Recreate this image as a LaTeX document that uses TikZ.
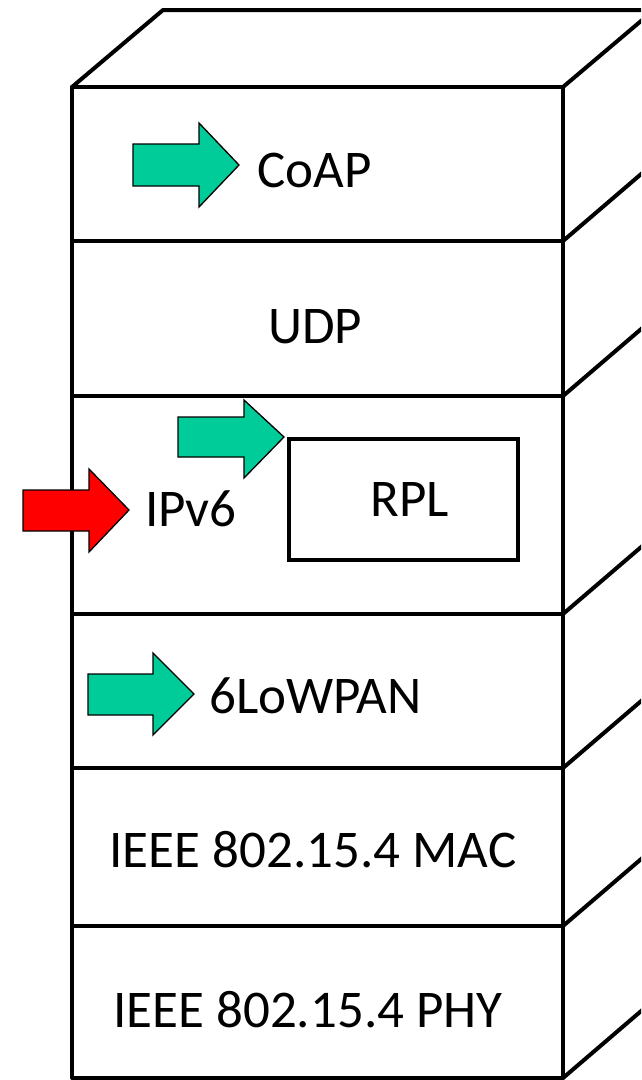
\documentclass[tikz,border=0pt]{standalone}
\usepackage{fontspec}
\setmainfont{Carlito}
\begin{document}
\begin{tikzpicture}[x=1pt,y=-1pt,
  edge/.style={line width=4pt,line join=round,line cap=round},
  lbl/.style={inner sep=0pt,font=\fontsize{53}{60}\selectfont},
  garrow/.style={fill=arrowgreen,draw=black,line width=1.3pt},
  rarrow/.style={fill=red,draw=black,line width=1.3pt}]
\definecolor{arrowgreen}{RGB}{0,204,153}
\useasboundingbox (0,0) rectangle (641,1080);
\clip (0,0) rectangle (641,1080);
% top face
\draw[edge] (72,87) -- (163,10) -- (660,10);
\draw[edge] (563,87) -- (654,10);
% front face
\draw[edge] (72,87) rectangle (563,1078);
\foreach \yy in {241,396,614,768,926}{
  \draw[edge] (72,\yy) -- (563,\yy);
}
% side diagonals
\foreach \yy in {241,396,614,768,926,1078}{
  \draw[edge] (563,\yy) -- ++(91,-78);
}
% RPL box
\draw[line width=4pt] (289,439) rectangle (518,560);
% arrows
\draw[garrow] (133,144) -- (199,144) -- (199,123) -- (239,165) -- (199,207) -- (199,186) -- (133,186) -- cycle;
\draw[garrow] (178,417) -- (244,417) -- (244,400) -- (284,437) -- (244,478) -- (244,457) -- (178,457) -- cycle;
\draw[rarrow] (23,490) -- (89,490) -- (89,469) -- (129,510) -- (89,552) -- (89,531) -- (23,531) -- cycle;
\draw[garrow] (88,674) -- (153,674) -- (153,653) -- (194,694) -- (153,735) -- (153,715) -- (88,715) -- cycle;
% labels
\node[lbl,anchor=base west] (coap) at (257,187) {CoAP};
\node[lbl,anchor=base] (udp) at (315,343) {UDP};
\node[lbl,anchor=base west] (ipv6) at (145,526) {IPv6};
\node[lbl,anchor=base] (rpl) at (410,516) {RPL};
\node[lbl,anchor=base west] (lowpan) at (209,713) {6LoWPAN};
\node[lbl,anchor=base] (mac) at (313,867) {IEEE 802.15.4 MAC};
\node[lbl,anchor=base] (phy) at (308,1027) {IEEE 802.15.4 PHY};
\end{tikzpicture}
\end{document}
